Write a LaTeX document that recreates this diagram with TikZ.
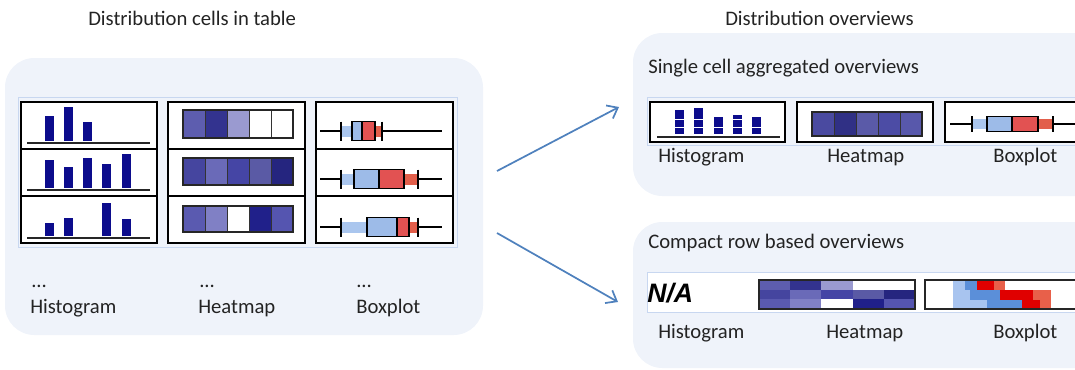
\documentclass[tikz,border=0pt]{standalone}
\usepackage{fontspec}
\setmainfont{Carlito}
\newfontfamily\nafont{Liberation Sans}
\usetikzlibrary{arrows.meta}
\definecolor{panelbg}{RGB}{239,243,250}
\definecolor{frameblue}{RGB}{200,215,240}
\definecolor{navy}{RGB}{12,12,140}
\definecolor{arrowblue}{RGB}{79,129,189}
\definecolor{bxblue}{RGB}{157,187,232}
\definecolor{bxred}{RGB}{226,82,82}
\definecolor{bandblue}{RGB}{170,198,238}
\definecolor{bandred}{RGB}{226,95,75}
\definecolor{txt}{RGB}{35,35,35}
\definecolor{cpl}{RGB}{168,196,239}
\definecolor{cpm}{RGB}{91,143,217}
\definecolor{cpr}{RGB}{224,0,0}
\definecolor{cpo}{RGB}{232,96,74}
% heatmap colours (row, cell)
\definecolor{hm11}{RGB}{93,93,175}
\definecolor{hm12}{RGB}{51,51,143}
\definecolor{hm13}{RGB}{154,154,208}
\definecolor{hm14}{RGB}{255,255,255}
\definecolor{hm15}{RGB}{255,255,255}
\definecolor{hm21}{RGB}{69,69,159}
\definecolor{hm22}{RGB}{106,106,184}
\definecolor{hm23}{RGB}{69,69,165}
\definecolor{hm24}{RGB}{90,90,165}
\definecolor{hm25}{RGB}{37,37,127}
\definecolor{hm31}{RGB}{90,90,176}
\definecolor{hm32}{RGB}{128,128,197}
\definecolor{hm33}{RGB}{255,255,255}
\definecolor{hm34}{RGB}{32,32,138}
\definecolor{hm35}{RGB}{85,85,176}
\definecolor{ag1}{RGB}{74,74,160}
\definecolor{ag2}{RGB}{48,48,133}
\definecolor{ag3}{RGB}{90,90,168}
\definecolor{ag4}{RGB}{76,76,165}
\definecolor{ag5}{RGB}{88,88,171}
\tikzset{
  panel/.style={fill=panelbg, draw=none, rounded corners=22pt},
  thinframe/.style={draw=frameblue, line width=0.6pt},
  cellbox/.style={draw=black, line width=1.6pt, fill=white},
  histbar/.style={fill=navy},
  baseline/.style={draw=black!85, line width=2.2pt},
  hmcell/.style={draw=black!80, line width=0.6pt},
  hmframe/.style={draw=black!85, line width=1.5pt},
  whisker/.style={draw=black, line width=1.3pt},
  bxbox/.style={draw=black, line width=1.3pt},
  lbl/.style={anchor=base west, inner sep=0pt, text=txt, font=\fontsize{15.5}{18}\selectfont},
  arr/.style={draw=arrowblue, line width=1.3pt, -{Straight Barb[length=7pt,width=11pt]}},
}
\begin{document}
\begin{tikzpicture}[x=0.75pt,y=-0.75pt]
\useasboundingbox (0,0) rectangle (1075,369);
\clip (0,0) rectangle (1075,369);

% ---------- titles
\node[lbl] (t1) at (88,25) {Distribution cells in table};
\node[lbl] (t2) at (725,25) {Distribution overviews};

% ---------- left panel
\fill[panel] (5,58) rectangle (483,335);
\draw[thinframe] (18,97) rectangle (457,247);

% histogram column
\draw[cellbox] (21,102) rectangle (157,243);
\draw[line width=1.6pt] (21,149) -- (157,149) (21,196) -- (157,196);
\foreach \base/\bars in {143/{49/116,68/107,87/122},
                          190/{49/160,68/167,87/158,106/164,126/154},
                          238/{49/223,68/218,106/203,126/219}}{
  \foreach \bx/\bt in \bars { \fill[histbar] (\bx-4.5,\bt) rectangle (\bx+4.5,\base-2); }
  \draw[baseline] (27,\base) -- (150,\base);
}

% heatmap column
\draw[cellbox] (168,102) rectangle (305,243);
\draw[line width=1.6pt] (168,149) -- (305,149) (168,196) -- (305,196);
\foreach \r/\yt/\yb in {1/110/138, 2/158/185, 3/206/232}{
  \foreach \k in {1,...,5}{
    \fill[hm\r\k] (161+22*\k,\yt) rectangle (183+22*\k,\yb);
    \draw[hmcell] (161+22*\k,\yt) rectangle (183+22*\k,\yb);
  }
  \draw[hmframe] (183,\yt) rectangle (293,\yb);
}

% boxplot column
\draw[cellbox] (316,102) rectangle (453,243);
\draw[line width=1.6pt] (316,149) -- (453,149) (316,196) -- (453,196);
\foreach \yc/\lt/\bs/\md/\be/\rt in {131/341/352/362/375/382,
                                      179/341/354/379/404/418,
                                      227/341/367/397/409/418}{
  \draw[whisker] (320,\yc) -- (442,\yc);
  \fill[bandblue] (\lt,\yc-5.5) rectangle (\bs,\yc+5.5);
  \fill[bandred] (\be,\yc-5.5) rectangle (\rt,\yc+5.5);
  \fill[bxblue] (\bs,\yc-9.5) rectangle (\md,\yc+9.5);
  \fill[bxred] (\md,\yc-9.5) rectangle (\be,\yc+9.5);
  \draw[bxbox] (\bs,\yc-9.5) rectangle (\be,\yc+9.5) (\md,\yc-9.5) -- (\md,\yc+9.5);
  \draw[whisker] (\lt,\yc-9.5) -- (\lt,\yc+9.5) (\rt,\yc-9.5) -- (\rt,\yc+9.5);
}

\node[lbl] (d1) at (31,287) {...};
\node[lbl] (d2) at (199,287) {...};
\node[lbl] (d3) at (356,287) {...};
\node[lbl] (l1) at (30,313) {Histogram};
\node[lbl] (l2) at (198,313) {Heatmap};
\node[lbl] (l3) at (356,313) {Boxplot};

% ---------- arrows
\coordinate (a1s) at (497,171);
\coordinate (a1e) at (619,107);
\coordinate (a2s) at (497,233);
\coordinate (a2e) at (618,302);
\draw[arr] (a1s) -- (a1e);
\draw[arr] (a2s) -- (a2e);

% ---------- top right panel
\fill[panel] (633,33) rectangle (1110,196);
\node[lbl] (s1) at (648,73) {Single cell aggregated overviews};
\draw[thinframe] (647,97) rectangle (1090,145);

\draw[cellbox] (650,102) rectangle (785,142);
\foreach \bx/\bt in {679/110,698/108,718/117,737/115,756/117}{
  \fill[histbar] (\bx-4.5,\bt) rectangle (\bx+4.5,134);
  \draw[white, line width=0.25pt] (\bx-4.5,127) -- (\bx+4.5,127);
}
\foreach \bx in {679,698,737}{ \draw[white, line width=0.25pt] (\bx-4.5,119) -- (\bx+4.5,119); }
\draw[baseline] (657,137) -- (780,137);

\draw[cellbox] (797,102) rectangle (933,142);
\foreach \k in {1,...,5}{
  \fill[ag\k] (790+22*\k,112) rectangle (812+22*\k,136);
  \draw[hmcell] (790+22*\k,112) rectangle (812+22*\k,136);
}
\draw[hmframe] (812,112) rectangle (922,136);

\draw[cellbox] (945,102) rectangle (1100,142);
\draw[whisker] (950,124) -- (1075,124);
\fill[bandblue] (972,119) rectangle (987,129);
\fill[bandred] (1038,119) rectangle (1053,129);
\fill[bxblue] (987,116.5) rectangle (1012,131.5);
\fill[bxred] (1012,116.5) rectangle (1038,131.5);
\draw[bxbox] (987,116.5) rectangle (1038,131.5) (1012,116.5) -- (1012,131.5);
\draw[whisker] (972,116) -- (972,132) (1053,116) -- (1053,132);

\node[lbl] (s1a) at (658,162) {Histogram};
\node[lbl] (s1b) at (827,162) {Heatmap};
\node[lbl] (s1c) at (993,162) {Boxplot};

% ---------- bottom right panel
\fill[panel] (633,222) rectangle (1110,368);
\node[lbl] (s2) at (648,248) {Compact row based overviews};
\draw[thinframe, fill=white] (647,272) rectangle (1090,312);
\node[anchor=base west, inner sep=0pt, font=\nafont\bfseries\itshape\fontsize{20}{22}\selectfont] (na) at (647,302) {N/A};

% compact heatmap
\foreach \r in {1,2,3}{
  \foreach \k in {1,...,5}{
    \fill[hm\r\k] (759+31.2*\k-31.2,280+9.67*\r-9.67) rectangle (759+31.2*\k,280+9.67*\r);
  }
}
\draw[hmframe] (759,280) rectangle (915,309);

% compact boxplot
\draw[hmframe, fill=white] (925,280) rectangle (1100,309);
\foreach \yt/\yb/\lt/\bs/\md/\be/\rt in {281/290/953/965/977/994/1005,
                                          290/299.5/953/970/1000/1033/1051,
                                          299.5/308/953/987/1022/1040/1051}{
  \fill[cpl] (\lt,\yt) rectangle (\bs,\yb);
  \fill[cpm] (\bs,\yt) rectangle (\md,\yb);
  \fill[cpr] (\md,\yt) rectangle (\be,\yb);
  \fill[cpo] (\be,\yt) rectangle (\rt,\yb);
}
\draw[hmframe] (925,280) rectangle (1100,309);

\node[lbl] (s2a) at (658,338) {Histogram};
\node[lbl] (s2b) at (826,338) {Heatmap};
\node[lbl] (s2c) at (993,338) {Boxplot};
\end{tikzpicture}
\end{document}
